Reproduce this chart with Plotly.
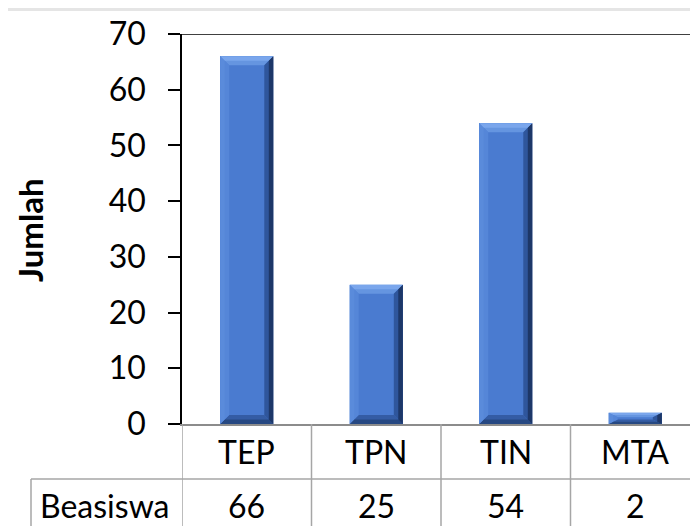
import plotly.graph_objects as go

# data
categories = ['TEP', 'TPN', 'TIN', 'MTA']
series_name = 'Beasiswa'
values = [66, 25, 54, 2]
y_ticks = [0, 10, 20, 30, 40, 50, 60, 70]
y_title = 'Jumlah'

# page body has an 8px margin, so the figure is drawn 8px smaller and shifted
OFF = 8
W, H = 698 - OFF, 526 - OFF
FONT = 'Lato'


def fx(X):
    return (X - OFF) / W


def fy(Y):
    return (H - (Y - OFF)) / H


# pixel layout of the plot area (reference measurements)
left_px, base_px, top_px, cat_px = 182, 424, 34, 129.5
y_dom = [fy(base_px), fy(top_px)]
row1_y = fy(451)
row2_y = fy(505)
row_line_y = fy(479)

xs = list(range(len(categories)))
bar_w = 0.41
px_per_unit = (base_px - top_px) / max(y_ticks)
bev_x = 9 / cat_px
bev_y = 9 / px_per_unit


def bevel_polys(frac_out=1.0, frac_in=0.0):
    # trapezoids for top/left/right/bottom bevel faces of every bar
    out = {'top': ([], []), 'left': ([], []), 'right': ([], []), 'bottom': ([], [])}
    for x, v in zip(xs, values):
        l, r = x - bar_w / 2, x + bar_w / 2
        dy = min(bev_y, v * 0.4)
        a, b = frac_in, frac_out
        pts = {
            'top': [(l + bev_x * a, v - dy * a), (r - bev_x * a, v - dy * a),
                    (r - bev_x * b, v - dy * b), (l + bev_x * b, v - dy * b)],
            'bottom': [(l + bev_x * a, dy * a), (r - bev_x * a, dy * a),
                       (r - bev_x * b, dy * b), (l + bev_x * b, dy * b)],
            'left': [(l + bev_x * a, dy * a), (l + bev_x * a, v - dy * a),
                     (l + bev_x * b, v - dy * b), (l + bev_x * b, dy * b)],
            'right': [(r - bev_x * a, dy * a), (r - bev_x * a, v - dy * a),
                      (r - bev_x * b, v - dy * b), (r - bev_x * b, dy * b)],
        }
        for k, p in pts.items():
            out[k][0].extend([q[0] for q in p] + [p[0][0], None])
            out[k][1].extend([q[1] for q in p] + [p[0][1], None])
    return out


fig = go.Figure()
fig.add_trace(go.Bar(x=xs, y=values, width=bar_w, name=series_name,
                     marker=dict(color='#4a7bd0', line=dict(width=0))))

face_colors = [
    (bevel_polys(1.0, 0.0), {'top': '#6595e0', 'left': '#5586d8', 'right': '#2f569c', 'bottom': '#345ca4'}),
    (bevel_polys(0.5, 0.0), {'top': '#7aa6ec', 'left': '#5a8bdb', 'right': '#1d3768', 'bottom': '#264882'}),
]
for polys, cols in face_colors:
    for k in ['bottom', 'top', 'left', 'right']:
        px, py = polys[k]
        fig.add_trace(go.Scatter(x=px, y=py, mode='lines', fill='toself',
                                 fillcolor=cols[k], line=dict(width=0),
                                 hoverinfo='skip', showlegend=False))

grid_col = '#a6a6a6'
shapes = [
    # grey band at the very top
    dict(type='rect', xref='paper', yref='paper', x0=0, x1=1, y0=fy(11), y1=1,
         fillcolor='#e5e5e5', line=dict(width=0), layer='below'),
    # top border of plot area
    dict(type='line', xref='paper', yref='y', x0=fx(left_px), x1=1, y0=70, y1=70,
         line=dict(color='black', width=1.5)),
    # data table lines
    dict(type='line', xref='paper', yref='paper', x0=fx(31), x1=1, y0=row_line_y, y1=row_line_y,
         line=dict(color=grid_col, width=1.5)),
    dict(type='line', xref='paper', yref='paper', x0=fx(31), x1=fx(31), y0=0, y1=row_line_y,
         line=dict(color=grid_col, width=1.5)),
]
for i in range(len(categories)):
    shapes.append(dict(type='line', xref='x', yref='paper', x0=i - 0.5, x1=i - 0.5,
                       y0=0, y1=y_dom[0], line=dict(color=grid_col, width=1.5)))

txt = dict(family=FONT, size=32, color='black')
annotations = []
for i, c in enumerate(categories):
    annotations.append(dict(x=i, y=row1_y, xref='x', yref='paper', text=c, showarrow=False,
                            xanchor='center', yanchor='middle', font=txt))
    annotations.append(dict(x=i, y=row2_y, xref='x', yref='paper', text=str(values[i]), showarrow=False,
                            xanchor='center', yanchor='middle', font=txt))
annotations.append(dict(x=fx(105), y=row2_y, xref='paper', yref='paper', text=series_name,
                        showarrow=False, xanchor='center', yanchor='middle', font=txt))
annotations.append(dict(x=fx(30), y=fy(230), xref='paper', yref='paper', text='<b>' + y_title + '</b>',
                        textangle=-90, showarrow=False, xanchor='center', yanchor='middle',
                        borderpad=0, font=dict(family=FONT, size=33, color='black')))

fig.update_layout(
    width=W, height=H,
    margin=dict(l=0, r=0, t=0, b=0, pad=0),
    paper_bgcolor='white', plot_bgcolor='white',
    showlegend=False,
    bargap=0,
    shapes=shapes,
    annotations=annotations,
    xaxis=dict(domain=[fx(left_px), 1], range=[-0.5, len(categories) - 0.5 - 2 / cat_px],
               showticklabels=False, showgrid=False, zeroline=False, ticks='', automargin=False,
               showline=True, linecolor='#8c8c8c', linewidth=1.5, fixedrange=True),
    yaxis=dict(domain=y_dom, range=[0, 70], tickvals=y_ticks, ticks='outside', ticklen=12,
               tickcolor='black', tickwidth=1.5, showline=True, linecolor='black', linewidth=1.5,
               showgrid=False, zeroline=False, ticklabelstandoff=16, automargin=False,
               tickfont=dict(family=FONT, size=32, color='black'), fixedrange=True),
)

fig.write_html("out.html")
